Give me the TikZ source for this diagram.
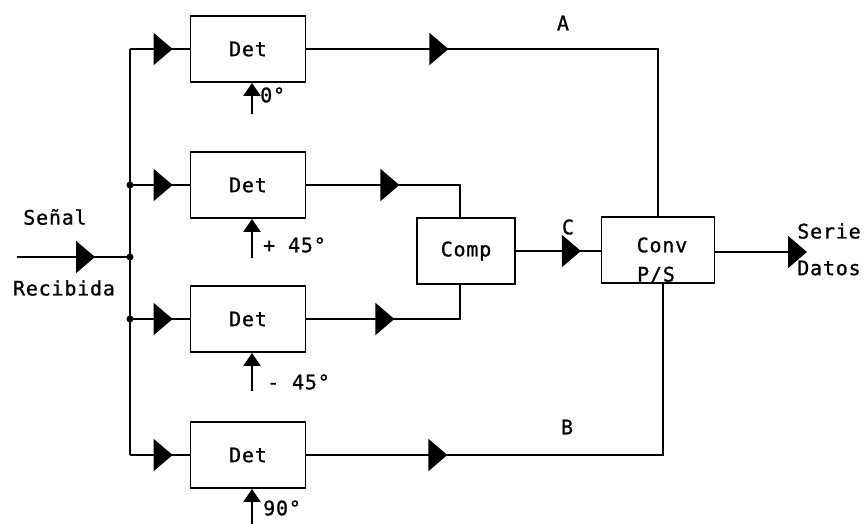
\documentclass[tikz,border=0pt]{standalone}
\usepackage{fontspec}
\newfontfamily\typefont[LetterSpace=4,FakeBold=1]{DejaVu Sans Mono}
\usetikzlibrary{arrows.meta,decorations.markings}
\tikzset{
  block/.style={draw, line width=1.8pt, minimum width=115pt, minimum height=66pt,
    font=\typefont\fontsize{20}{23}\selectfont},
  lbl/.style={font=\typefont\fontsize{20}{23}\selectfont, inner sep=0pt},
  wire/.style={line width=1.8pt},
  midarr/.style={postaction={decorate},
    decoration={markings, mark=at position #1 with {\arrow{Triangle[length=19pt,width=32pt]}}}},
  phase/.style={wire, -{Triangle[length=13pt,width=17pt]}},
  junct/.style={circle, fill, inner sep=0pt, minimum size=7pt}
}
\begin{document}
\begin{tikzpicture}[x=1pt,y=-1pt]
    \useasboundingbox (0,0) rectangle (865,523);
    % Detectors, comparator and converter
    \foreach \i/\yy in {1/49,2/185,3/319,4/455}
        \node[block] (d\i) at (248,\yy) {Det};
    \node[block, minimum width=98pt] (comp) at (466,251) {Comp};
    \node[block, minimum width=113pt] (conv) at (658,250) {};
    \node[lbl] (convtop) at (662,245) {Conv};
    \node[lbl] (convbot) at (656,275) {P/S};

    % Input signal and distribution bus
    \coordinate (in) at (17,257);
    \coordinate (j) at (130,257);
    \draw[wire, midarr=-35pt] (in) -- (j);
    \draw[wire] (j |- d1.west) -- (j |- d4.west);
    \foreach \i in {1,...,4}
        \draw[wire, midarr=-17pt] (j |- d\i.west) -- (d\i.west);
    \foreach \i in {2,3}
        \node[junct] (dot\i) at (j |- d\i.west) {};
    \node[junct] (dotin) at (j) {};
    \node[lbl] (senal) at (55,217) {Señal};
    \node[lbl] (recib) at (64,288) {Recibida};

    % Phase references
    \foreach \i/\len/\lx/\ly/\ph in {1/31/260/95/0°, 2/39/263/245/+ 45°, 3/38/267/382/- 45°, 4/35/263/508/90°} {
        \coordinate (p\i) at ([xshift=4pt,yshift=-\len pt]d\i.south);
        \draw[phase] (p\i) -- (p\i |- d\i.south);
        \node[lbl, anchor=west] (ph\i) at (\lx,\ly) {\ph};
    }

    % Outputs
    \draw[wire, midarr=142pt] (d1.east) -| (conv.north);
    \draw[wire, midarr=93pt] (d2.east) -| ([xshift=-6pt]comp.north);
    \draw[wire, midarr=88pt] (d3.east) -| ([xshift=-6pt]comp.south);
    \draw[wire, midarr=141pt] (d4.east) -| ([xshift=5pt]conv.south);
    \draw[wire, midarr=65pt] (comp.east) -- (comp.east -| conv.west);
    \coordinate (out) at (807,252);
    \draw[wire, -{Triangle[length=19pt,width=32pt]}] (conv.east |- out) -- (out);

    \node[lbl] (la) at (563,23) {A};
    \node[lbl] (lb) at (567,427) {B};
    \node[lbl] (lc) at (568,227) {C};
    \node[lbl] (serie) at (829,231) {Serie};
    \node[lbl] (datos) at (829,268) {Datos};
\end{tikzpicture}
\end{document}
